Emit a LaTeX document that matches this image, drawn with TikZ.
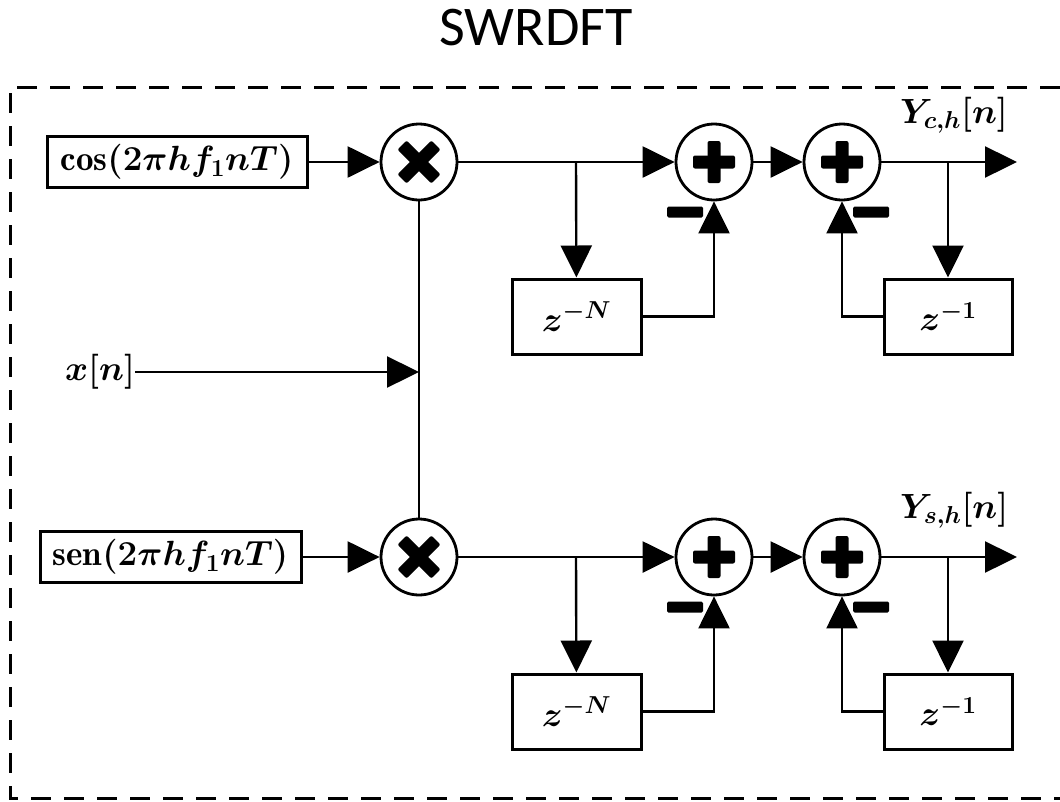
\RequirePackage{fix-cm}
\documentclass[tikz,border=0pt]{standalone}
\usepackage{amsmath}
\usepackage{fontspec}
\newfontfamily\titlefont{Carlito}
\usetikzlibrary{arrows.meta}
\DeclareMathOperator{\sen}{sen}

\tikzset{
  flow/.style={line width=2.4pt},
  arr/.style={flow,-{Triangle[length=32pt,width=31pt]}},
  blockbox/.style={draw,line width=3pt,inner sep=0pt,
    font=\fontsize{35}{40}\selectfont\boldmath},
  junction/.style={circle,draw,line width=2.8pt,minimum size=76pt,inner sep=0pt},
  mult/.style={junction,path picture={
    \begin{scope}[shift={(path picture bounding box.center)}]
      \fill[rounded corners=2pt] (12.37pt,21.57pt) -- (21.57pt,12.37pt)
        -- (-12.37pt,-21.57pt) -- (-21.57pt,-12.37pt) -- cycle;
      \fill[rounded corners=2pt] (-12.37pt,21.57pt) -- (-21.57pt,12.37pt)
        -- (12.37pt,-21.57pt) -- (21.57pt,-12.37pt) -- cycle;
    \end{scope}}},
  adder/.style={junction,path picture={
    \begin{scope}[shift={(path picture bounding box.center)}]
      \fill[rounded corners=2pt] (-21pt,-6.5pt) rectangle (21pt,6.5pt);
      \fill[rounded corners=2pt] (-6.5pt,-21pt) rectangle (6.5pt,21pt);
    \end{scope}}},
  minussign/.style={fill,rounded corners=1.5pt,minimum width=36pt,
    minimum height=11pt,inner sep=0pt},
  siglabel/.style={font=\fontsize{35}{40}\selectfont\boldmath,inner sep=0pt},
  frame/.style={line width=3pt,dash pattern=on 20pt off 13pt}
}

\begin{document}
\begin{tikzpicture}[x=1pt,y=-1pt]
\useasboundingbox (0,0) rectangle (1060,801);

% title and enclosing frame
\node[font=\titlefont\fontsize{56}{60}\selectfont] (title) at (536,28) {SWRDFT};
\draw[frame] (1060,87) -- (10,87) -- (10,798) -- (1060,798);

% carrier blocks and multipliers
\node[blockbox,minimum width=260pt,minimum height=51pt] (cosb) at (177,162) {$\cos(2\pi h f_1 n T)$};
\node[blockbox,minimum width=261pt,minimum height=51pt] (senb) at (170.5,557) {$\sen(2\pi h f_1 n T)$};
\node[mult] (m1) at (419,162) {};
\node[mult] (m2) at (419,557) {};

% input signal
\node[siglabel] (xn) at (100,372) {$x[n]$};
\coordinate (xj) at (419,372);

% cosine branch
\node[adder] (a1) at (714,162) {};
\node[adder] (a2) at (842,162) {};
\node[blockbox,minimum width=129pt,minimum height=75pt] (zn1) at (576.5,316.5) {$z^{-N}$};
\node[blockbox,minimum width=128pt,minimum height=75pt] (zo1) at (948,316.5) {$z^{-1}$};
\node[minussign] (s1) at (685,212) {};
\node[minussign] (s2) at (871,212) {};
\coordinate (b1) at (576,162);
\coordinate (c1) at (948,162);
\coordinate (o1) at (1017,162);
\node[siglabel,anchor=west] (yc) at (900,115) {$Y_{c,h}[n]$};

% sine branch
\node[adder] (a3) at (714,557) {};
\node[adder] (a4) at (842,557) {};
\node[blockbox,minimum width=129pt,minimum height=75pt] (zn2) at (576.5,711.5) {$z^{-N}$};
\node[blockbox,minimum width=128pt,minimum height=75pt] (zo2) at (948,711.5) {$z^{-1}$};
\node[minussign] (s3) at (685,607) {};
\node[minussign] (s4) at (871,607) {};
\coordinate (b2) at (576,557);
\coordinate (c2) at (948,557);
\coordinate (o2) at (1017,557);
\node[siglabel,anchor=west] (ys) at (900,510) {$Y_{s,h}[n]$};

% connections
\draw[arr] (cosb) -- (m1);
\draw[arr] (senb) -- (m2);
\draw[flow] (m1) -- (m2);
\draw[arr] (xn) -- (xj);

\draw[arr] (m1) -- (a1);
\draw[arr] (b1) -- (zn1);
\draw[arr] (zn1) -| (a1);
\draw[arr] (a1) -- (a2);
\draw[arr] (a2) -- (o1);
\draw[arr] (c1) -- (zo1);
\draw[arr] (zo1) -| (a2);

\draw[arr] (m2) -- (a3);
\draw[arr] (b2) -- (zn2);
\draw[arr] (zn2) -| (a3);
\draw[arr] (a3) -- (a4);
\draw[arr] (a4) -- (o2);
\draw[arr] (c2) -- (zo2);
\draw[arr] (zo2) -| (a4);
\end{tikzpicture}
\end{document}
